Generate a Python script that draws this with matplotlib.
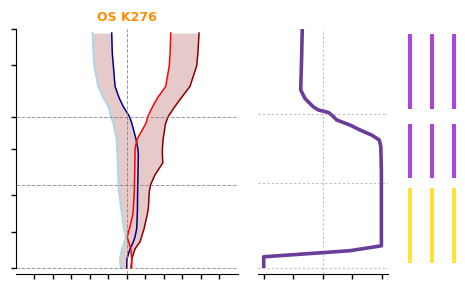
import numpy as np
import matplotlib
matplotlib.use('Agg')
import matplotlib.pyplot as plt

#levels (height units) shared by the profiles of the left panel
levels = [0, 0.4, 0.8, 1.1, 1.3, 1.65, 2.2, 2.5, 3.2, 3.5, 3.9, 4.4, 4.75,
          5.0, 5.4, 6.05, 6.35, 6.75, 7.1, 7.6, 8.45, 9.0, 9.83]
#envelope lower / upper
env_low = [-0.32, -0.36, -0.25, -0.12, -0.04, -0.15, -0.25, -0.30, -0.42, -0.44,
           -0.46, -0.48, -0.50, -0.52, -0.54, -0.72, -0.85, -0.98, -1.25, -1.54,
           -1.75, -1.80, -1.84]
env_high = [0.23, 0.28, 0.45, 0.72, 0.80, 0.94, 1.10, 1.17, 1.22, 1.30, 1.53,
            1.95, 1.93, 1.93, 1.97, 2.10, 2.25, 2.60, 2.93, 3.42, 3.78, 3.85, 3.91]
#the two profiles
prof_navy = [0.0, 0.02, 0.18, 0.36, 0.45, 0.54, 0.57, 0.58, 0.59, 0.60, 0.61,
             0.62, 0.63, 0.60, 0.50, 0.28, 0.14, -0.18, -0.40, -0.63, -0.72,
             -0.78, -0.81]
prof_red = [0.27, 0.27, 0.22, 0.10, 0.03, 0.15, 0.32, 0.36, 0.41, 0.42, 0.43,
            0.44, 0.45, 0.45, 0.57, 1.04, 1.15, 1.40, 1.65, 2.11, 2.30, 2.35, 2.38]

#middle panel profile
mid_levels = [0, 0.46, 0.63, 0.71, 0.91, 2.0, 3.0, 4.0, 4.97, 5.25, 5.45, 5.66,
              5.86, 6.07, 6.27, 6.38, 6.48, 6.61, 6.95, 7.30, 7.70, 8.52, 9.80]
mid_values = [0.0, 0.0, 0.50, 0.73, 0.995, 0.995, 0.995, 0.995, 0.99, 0.977,
              0.913, 0.814, 0.73, 0.617, 0.575, 0.546, 0.462, 0.419, 0.349,
              0.313, 0.315, 0.32, 0.326]

#right panel segments (bottom, top, colour)
seg_bottom = [6.53, 3.70, 0.22]
seg_top = [9.59, 5.90, 3.28]
seg_color = ['#b042de', '#b042de', '#ffe137']
n_columns = 3

yticks_left = [0, 1.51, 3.05, 4.98, 6.32, 8.49, 10]
xticks_left = [-5, -4, -3, -2, -1, 0, 1, 2, 3, 4, 5]
xticks_mid = [0, 0.25, 0.5, 0.75, 1.0]
hlevels = [0, 3.47, 6.32]

W, H = 465., 284.
fig = plt.figure(figsize=(W / 100, H / 100), dpi=100)

def box(x0, x1, y_top, y_bot):
    return [x0 / W, 1 - y_bot / H, (x1 - x0) / W, (y_bot - y_top) / H]

## left panel
ax1 = fig.add_axes(box(15.7, 237.7, 29, 274))
#shading: lower envelope -> navy profile, red profile -> upper envelope
ax1.fill_betweenx(levels, env_low, prof_navy, color='#e6caca', lw=0)
ax1.fill_betweenx(levels, prof_red, env_high, color='#e6caca', lw=0)
ax1.plot(env_low, levels, color='#add8e6', lw=1.5)
ax1.plot(env_high, levels, color='#8b0000', lw=1.1)
ax1.plot(prof_navy, levels, color='#00008b', lw=1.1)
ax1.plot(prof_red, levels, color='#ff0000', lw=1.1)
for h in hlevels:
    ax1.axhline(h, color='grey', ls='--', lw=0.7, alpha=0.8)
ax1.axvline(0, color='grey', ls='--', lw=0.7, alpha=0.8)
ax1.set_xlim(-6, 6)
ax1.set_ylim(-0.25, 10.0)
ax1.set_xticks(xticks_left)
ax1.set_yticks(yticks_left)
ax1.set_xticklabels([])
ax1.set_yticklabels([])
ax1.spines['top'].set_visible(False)
ax1.spines['right'].set_visible(False)
ax1.spines['left'].set_bounds(0, 10)
ax1.tick_params(direction='out', length=3.5, width=1)
ax1.set_title('OS K276', color='#ff8c00', fontweight='bold', fontsize=9, pad=6)

## middle panel
ax2 = fig.add_axes(box(257.8, 387.9, 29, 274))
ax2.plot(mid_values, mid_levels, color='#6a3d9a', lw=2.6, solid_capstyle='butt')
for h in hlevels:
    ax2.axhline(h, color='grey', ls=(0, (2, 2)), lw=0.8, alpha=0.5)
ax2.axvline(0.5, color='grey', ls=(0, (2, 2)), lw=0.8, alpha=0.5)
ax2.set_xlim(-0.05, 1.05)
ax2.set_ylim(-0.246, 9.80)
ax2.set_xticks(xticks_mid)
ax2.set_xticklabels([])
ax2.set_yticks([])
for s in ['top', 'right', 'left']:
    ax2.spines[s].set_visible(False)
ax2.tick_params(direction='out', length=3.5, width=1)

## right panel
ax3 = fig.add_axes(box(399, 465, 29, 274))
for c in range(n_columns):
    for b, t, col in zip(seg_bottom, seg_top, seg_color):
        ax3.bar(c + 0.5, t - b, bottom=b, width=0.21, color=col, lw=0)
ax3.set_xlim(0, 3)
ax3.set_ylim(-0.246, 9.80)
ax3.axis('off')

plt.savefig('out.png', dpi=100)
